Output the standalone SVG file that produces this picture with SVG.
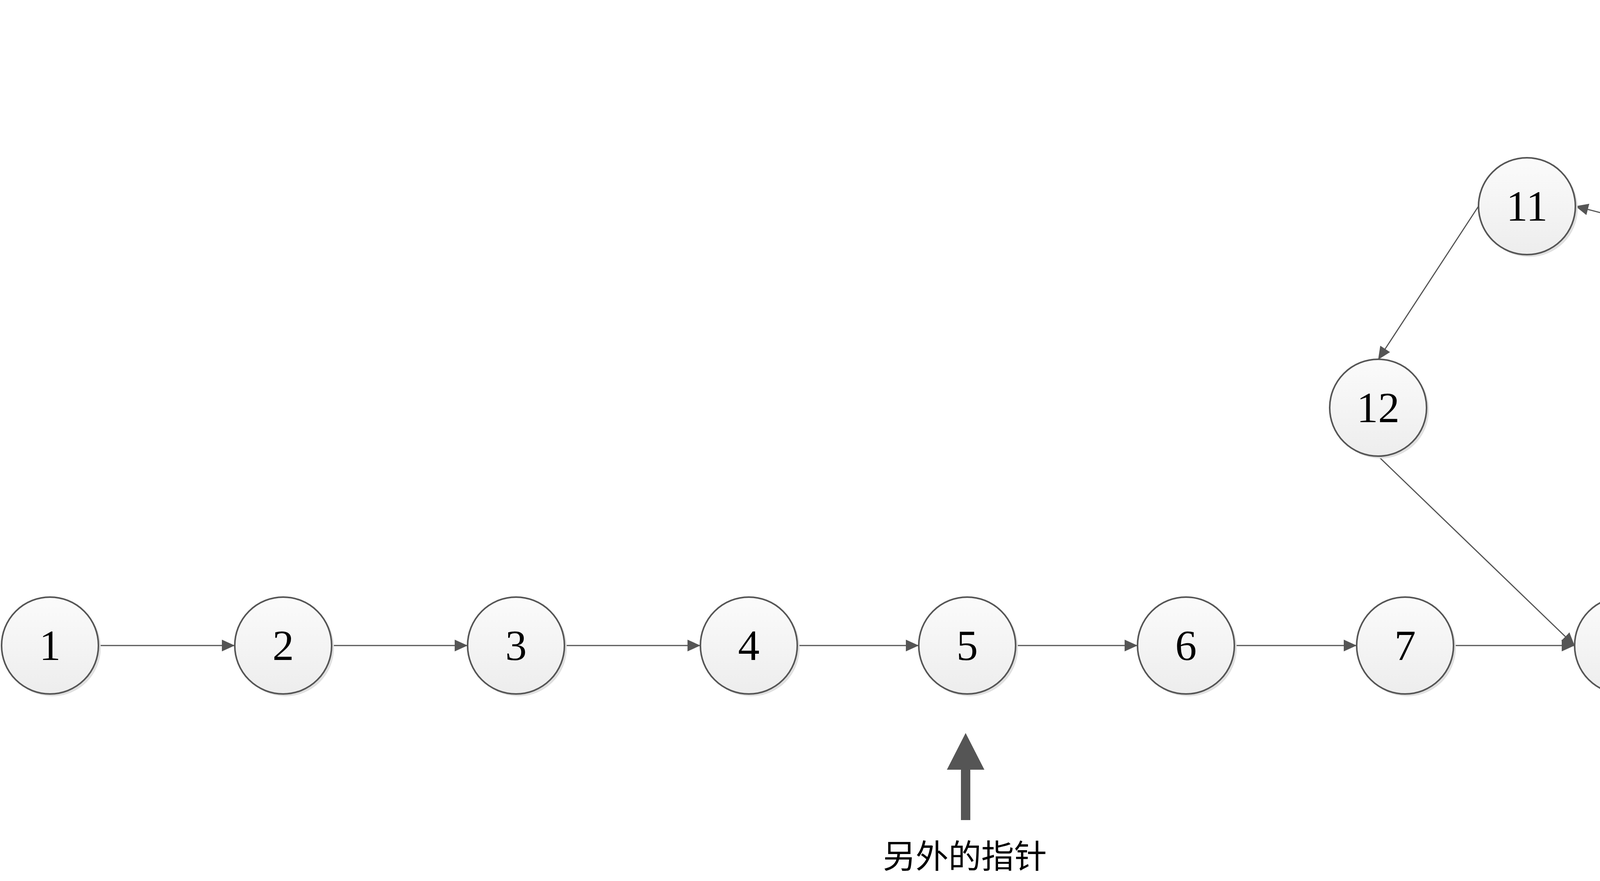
<svg xmlns="http://www.w3.org/2000/svg" width="4900" height="2256" viewBox="0 0 4900 2256">
<style>
.sh{fill:#e0e0e0;}
.nd{fill:url(#g);stroke:#555555;stroke-width:4;}
.lb{font-family:"Liberation Serif","Times New Roman",serif;font-size:110px;fill:#000;text-anchor:middle;}
.cn{fill:none;stroke:#555555;stroke-width:3;marker-end:url(#ah);}
.ptr{fill:#555555;}
.tx{font-family:"Noto Sans CJK SC","Noto Sans CJK JP",sans-serif;font-size:84px;fill:#000;text-anchor:middle;}
</style>
<defs>
<linearGradient id="g" x1="0" y1="0" x2="0" y2="1">
<stop offset="0" stop-color="#fbfbfb"/>
<stop offset="1" stop-color="#ededed"/>
</linearGradient>
<marker id="ah" markerUnits="userSpaceOnUse" markerWidth="34" markerHeight="30" refX="33" refY="15" orient="auto" viewBox="0 0 34 30">
<path d="M0,0 L33,15 L0,30 Z" fill="#555555"/>
</marker>
</defs>
<rect width="4900" height="2256" fill="#ffffff"/>
<g id="connectors">
<line class="cn" x1="252" y1="1653" x2="601" y2="1653"/>
<line class="cn" x1="849" y1="1653" x2="1197" y2="1653"/>
<line class="cn" x1="1445" y1="1653" x2="1793" y2="1653"/>
<line class="cn" x1="2041" y1="1653" x2="2352" y2="1653"/>
<line class="cn" x1="2600" y1="1653" x2="2912" y2="1653"/>
<line class="cn" x1="3160" y1="1653" x2="3473" y2="1653"/>
<line class="cn" x1="3721" y1="1653" x2="4031" y2="1653"/>
<line class="cn" x1="4279" y1="1653" x2="4640" y2="1319"/>
<line class="cn" x1="4764" y1="1195" x2="4605" y2="769"/>
<line class="cn" x1="4480" y1="644" x2="4033" y2="528"/>
<line class="cn" x1="3785" y1="528" x2="3528" y2="921"/>
<line class="cn" x1="3528" y1="1168" x2="4031" y2="1653"/>
</g>
<g id="n1"><ellipse class="sh" cx="134" cy="1659" rx="124" ry="124"/><ellipse class="nd" cx="128" cy="1653" rx="124" ry="124"/><text class="lb" x="128" y="1690">1</text></g>
<g id="n2"><ellipse class="sh" cx="731" cy="1659" rx="124" ry="124"/><ellipse class="nd" cx="725" cy="1653" rx="124" ry="124"/><text class="lb" x="725" y="1690">2</text></g>
<g id="n3"><ellipse class="sh" cx="1327" cy="1659" rx="124" ry="124"/><ellipse class="nd" cx="1321" cy="1653" rx="124" ry="124"/><text class="lb" x="1321" y="1690">3</text></g>
<g id="n4"><ellipse class="sh" cx="1923" cy="1659" rx="124" ry="124"/><ellipse class="nd" cx="1917" cy="1653" rx="124" ry="124"/><text class="lb" x="1917" y="1690">4</text></g>
<g id="n5"><ellipse class="sh" cx="2482" cy="1659" rx="124" ry="124"/><ellipse class="nd" cx="2476" cy="1653" rx="124" ry="124"/><text class="lb" x="2476" y="1690">5</text></g>
<g id="n6"><ellipse class="sh" cx="3042" cy="1659" rx="124" ry="124"/><ellipse class="nd" cx="3036" cy="1653" rx="124" ry="124"/><text class="lb" x="3036" y="1690">6</text></g>
<g id="n7"><ellipse class="sh" cx="3603" cy="1659" rx="124" ry="124"/><ellipse class="nd" cx="3597" cy="1653" rx="124" ry="124"/><text class="lb" x="3597" y="1690">7</text></g>
<g id="n8"><ellipse class="sh" cx="4161" cy="1659" rx="124" ry="124"/><ellipse class="nd" cx="4155" cy="1653" rx="124" ry="124"/><text class="lb" x="4155" y="1690">8</text></g>
<g id="n9"><ellipse class="sh" cx="4770" cy="1325" rx="124" ry="124"/><ellipse class="nd" cx="4764" cy="1319" rx="124" ry="124"/><text class="lb" x="4764" y="1356">9</text></g>
<g id="n10"><ellipse class="sh" cx="4611" cy="650" rx="124" ry="124"/><ellipse class="nd" cx="4605" cy="644" rx="124" ry="124"/><text class="lb" x="4605" y="681">10</text></g>
<g id="n11"><ellipse class="sh" cx="3915" cy="534" rx="124" ry="124"/><ellipse class="nd" cx="3909" cy="528" rx="124" ry="124"/><text class="lb" x="3909" y="565">11</text></g>
<g id="n12"><ellipse class="sh" cx="3534" cy="1050" rx="124" ry="124"/><ellipse class="nd" cx="3528" cy="1044" rx="124" ry="124"/><text class="lb" x="3528" y="1081">12</text></g>
<g id="slow-pointer">
<rect class="ptr" x="4600" y="180" width="24" height="130"/>
<polygon class="ptr" points="4564,309 4660,309 4612,403"/>
<text class="tx" x="4599" y="126">慢指针</text>
</g>
<g id="other-pointer">
<rect class="ptr" x="2460" y="1970" width="24" height="130"/>
<polygon class="ptr" points="2424,1971 2520,1971 2472,1877"/>
<text class="tx" x="2470" y="2223">另外的指针</text>
</g>
</svg>
